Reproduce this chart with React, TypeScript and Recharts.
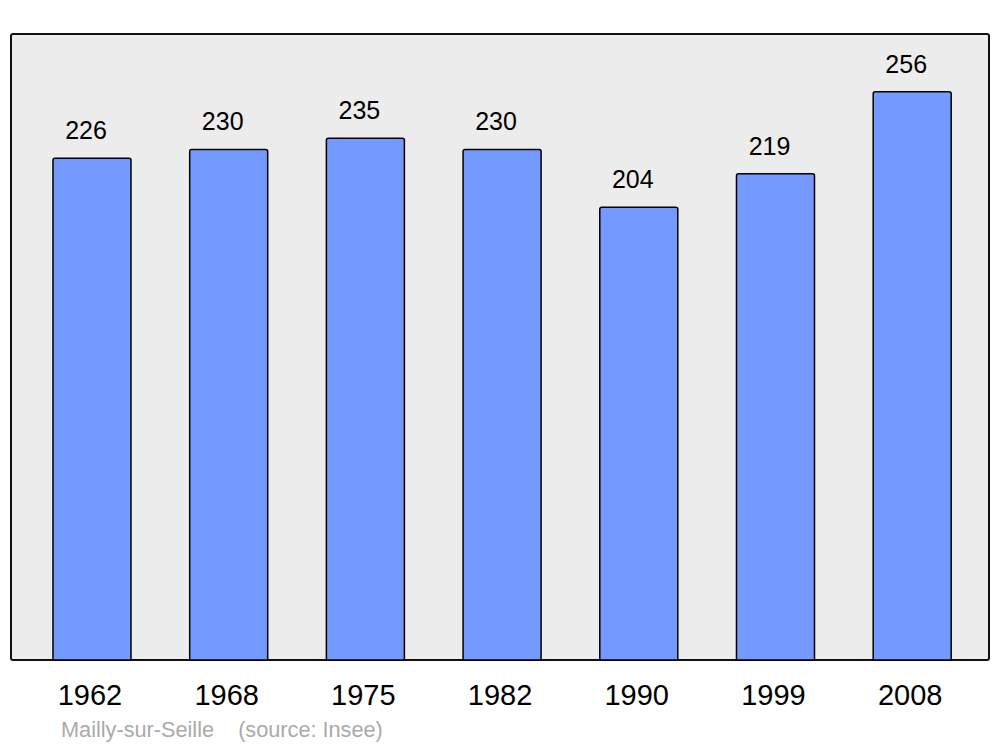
import { BarChart, Bar, XAxis, YAxis, CartesianGrid, LabelList } from 'recharts'

const years = ['1962', '1968', '1975', '1982', '1990', '1999', '2008']
const population = [226, 230, 235, 230, 204, 219, 256]

const data = years.map((year, i) => ({ year, population: population[i] }))

const font = '"Liberation Sans", Arial, sans-serif'

function ValueLabel(props: any) {
  const { x, y, width, value } = props
  return (
    <text x={x + width / 2 - 6} y={y - 19} textAnchor="middle" fontSize={25} fontFamily={font} fill="#000">
      {value}
    </text>
  )
}

function YearTick(props: any) {
  const { x, y, payload } = props
  return (
    <text x={x - 2} y={y + 37} textAnchor="middle" fontSize={29} fontFamily={font} fill="#000">
      {payload.value}
    </text>
  )
}

export default function App() {
  return (
    <div style={{ position: 'absolute', left: 0, top: 0, width: 1000, height: 747, background: '#fff' }}>
      <div
        style={{
          position: 'absolute', left: 10, top: 33, width: 976, height: 624,
          background: '#ececec', border: '2px solid #111', borderRadius: 3,
        }}
      />
      <BarChart
        width={1000}
        height={747}
        data={data}
        margin={{ top: 34, right: 11, bottom: 0, left: 11 }}
        barCategoryGap="21.5%"
        style={{ position: 'absolute', left: 0, top: 0 }}
      >
        <CartesianGrid horizontal={false} vertical={false} />
        <XAxis
          dataKey="year"
          axisLine={false}
          tickLine={false}
          padding={{ left: 12.6, right: 8.5 }}
          tick={<YearTick />}
          interval={0}
          height={87}
        />
        <YAxis hide domain={[0, 282]} />
        <Bar
          dataKey="population"
          fill="#7499ff"
          stroke="#000"
          strokeWidth={1.5}
          radius={[2, 2, 0, 0]}
          isAnimationActive={false}
        >
          <LabelList dataKey="population" content={<ValueLabel />} />
        </Bar>
      </BarChart>
      <div
        style={{
          position: 'absolute', left: 61, top: 717, fontFamily: font, fontSize: 21.7,
          color: '#aaa', whiteSpace: 'pre',
        }}
      >
        {'Mailly-sur-Seille    (source: Insee)'}
      </div>
    </div>
  )
}
